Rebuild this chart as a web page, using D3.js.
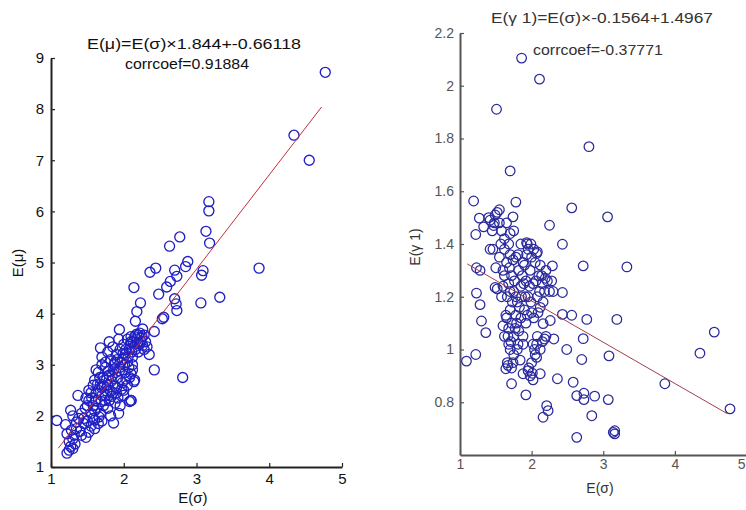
<!DOCTYPE html>
<html><head><meta charset="utf-8">
<script src="https://cdn.jsdelivr.net/npm/d3@7"></script>
<style>body{margin:0;background:#fff;} svg{display:block;font-family:"Liberation Sans",Arial,sans-serif;}</style>
</head><body><svg id="c" width="746" height="510"></svg>
<script>
// ---------- data: left panel E(sigma) vs E(mu) ----------
const leftSigma = [4.77,4.34,4.55,3.17,3.17,3.13,3.18,2.77,2.63,3.86,2.88,2.85,2.70,3.09,3.07,2.44,2.36,2.73,2.14,2.48,2.59,2.64,2.70,2.72,2.73,3.06,3.32,2.23,2.18,2.16,2.55,2.53,2.42,1.94,2.26,2.42,2.81,2.08,2.10,1.86,1.08,1.20,1.27,1.37,1.22,1.27,1.25,1.30,
1.22,1.30,1.35,1.42,1.48,1.52,1.55,1.38,1.45,1.60,1.65,1.28,1.58,1.70,1.33,
1.42,1.50,1.55,1.48,1.60,1.62,1.65,1.68,1.72,1.75,1.78,1.80,1.85,1.88,1.92,1.95,1.58,1.70,1.82,1.66,2.00,1.52,
1.60,1.65,1.68,1.72,1.75,1.78,1.80,1.83,1.86,1.90,1.92,1.95,1.98,2.02,2.05,2.08,2.12,2.15,2.14,1.62,1.70,2.00,1.88,
1.68,1.70,1.75,1.78,1.82,1.85,1.88,1.90,1.93,1.95,1.98,2.00,2.02,2.05,2.08,2.10,2.12,2.15,2.18,2.20,2.22,2.25,2.28,2.30,2.32,2.35,2.12,2.05,1.80,2.18,2.28,2.15,2.20,2.10,2.22];
const leftMu = [8.72,7.49,7.00,6.19,6.01,5.61,5.38,5.50,5.32,4.89,5.02,4.92,4.85,4.84,4.75,4.89,4.81,4.73,4.51,4.38,4.52,4.63,4.29,4.19,4.06,4.21,4.32,4.21,4.04,3.85,3.93,3.90,3.65,3.69,3.70,2.90,2.75,2.28,2.30,1.86,1.91,1.83,2.11,2.40,1.27,1.40,1.33,1.36,
1.65,1.55,1.75,1.62,1.58,1.68,1.80,1.95,1.85,1.75,1.85,1.72,1.95,1.90,1.45,
2.05,2.20,2.45,2.35,2.10,2.30,2.50,2.05,2.20,2.40,2.15,2.30,2.45,2.25,2.35,2.20,2.60,2.55,2.00,1.98,2.40,2.30,
2.70,2.85,2.62,2.75,2.95,2.60,2.80,2.68,2.90,2.55,2.75,2.95,2.65,2.85,2.60,2.75,2.90,2.70,2.67,2.90,3.00,2.50,2.58,
3.33,3.15,3.05,3.25,3.10,3.35,3.05,3.20,3.50,3.30,3.10,3.40,3.20,3.05,3.30,3.45,3.15,3.35,3.50,3.25,3.40,3.55,3.30,3.45,3.35,3.20,3.00,3.50,3.45,3.60,3.58,3.55,3.58,3.55,3.62];
const leftSigmaMore = [1.25,1.32,1.40,1.45,1.50,1.55,1.58,1.62,1.64,1.67,1.70,1.73,1.76,1.79,1.81,1.84,1.87,1.89,1.91,1.94,1.96,1.99,2.01,2.03,2.06,2.09,2.11,2.13,2.16,2.19,2.24,2.26,1.74,1.77,1.83,1.90,1.97,2.03,2.07,2.10,1.56,1.63,1.35,1.30,1.47,1.52,1.69,1.60,1.93,2.10];
const leftMuMore = [1.50,1.62,1.70,1.95,1.90,2.05,2.20,2.45,2.62,2.75,2.40,2.58,2.70,2.88,2.50,2.78,3.00,2.85,3.10,2.88,3.05,3.22,3.00,3.30,3.15,3.40,3.25,3.45,3.30,3.42,3.45,3.38,2.30,2.48,2.38,2.45,2.52,2.72,2.95,2.82,2.35,2.15,1.88,2.00,2.15,2.50,2.28,1.92,2.05,2.30];
const leftFit = [1.1, 4.72];
const leftSlope = 1.844, leftIntercept = -0.66118;
const leftXTicks = [1,2,3,4,5];
const leftYTicks = [1,2,3,4,5,6,7,8,9];
const leftTitle = "E(μ)=E(σ)×1.844+-0.66118";
const leftCorr = "corrcoef=0.91884";

// ---------- data: right panel E(sigma) vs E(gamma1) ----------
const rightSigma = [1.86,2.11,1.51,2.80,1.70,1.19,1.78,2.56,3.06,1.27,1.74,1.40,1.49,1.55,1.47,1.33,2.25,1.22,1.70,1.93,1.94,2.43,2.07,1.42,2.72,3.33,2.29,1.23,1.28,1.49,1.23,1.28,1.30,1.36,1.09,1.22,2.43,2.43,2.56,2.77,3.19,2.72,2.49,2.70,3.08,4.55,4.35,3.86,4.77,2.36,2.58,2.63,2.73,2.73,2.88,3.07,2.84,2.21,2.23,2.16,2.63,3.16,3.16,3.14,1.92,1.72,1.64,1.67,1.88,1.88,2.02,2.12,2.16,2.07,2.26,2.31,
1.55,1.60,1.62,1.65,1.68,1.70,1.72,1.75,1.78,1.80,1.82,1.85,1.88,1.90,1.92,1.95,1.98,2.00,2.02,2.05,2.08,2.10,2.12,2.15,2.18,2.20,2.22,2.25,1.65,1.68,1.70,1.72,1.75,1.78,1.80,1.70,1.68,1.66,1.72,1.75,1.82,1.85,1.88,1.92,1.95,1.98,2.00,2.02,2.05,2.08,2.12,2.15,2.18,2.20,1.62,1.60,1.58,1.52,1.50,1.45,1.48,1.55,1.58,1.52,1.42,1.62,1.65,1.68,1.95,2.00,2.08,1.85,1.75,1.90,2.28,2.30,2.12,1.78,1.60];
const rightGamma = [2.105,2.025,1.911,1.769,1.677,1.563,1.559,1.537,1.503,1.498,1.503,1.500,1.510,1.530,1.470,1.465,1.471,1.436,1.440,1.405,1.400,1.399,1.364,1.380,1.317,1.313,1.317,1.310,1.300,1.235,1.214,1.170,1.108,1.064,0.956,0.981,1.216,1.133,1.130,1.114,1.114,1.041,1.000,0.962,0.976,1.066,0.986,0.870,0.775,0.889,0.876,0.825,0.834,0.810,0.823,0.810,0.749,0.787,0.768,0.743,0.667,0.692,0.680,0.686,0.828,0.870,0.927,0.940,1.020,0.908,0.885,0.908,1.098,0.970,1.110,1.040,
1.35,1.30,1.38,1.33,1.25,1.36,1.28,1.22,1.35,1.18,1.30,1.24,1.33,1.15,1.26,1.20,1.30,1.14,1.25,1.33,1.20,1.28,1.16,1.25,1.22,1.30,1.26,1.22,1.12,1.08,1.15,1.10,1.05,1.13,1.00,1.00,1.02,0.95,0.93,0.98,1.07,1.12,1.05,1.10,0.92,0.90,0.95,1.02,0.98,1.05,1.00,1.03,1.04,1.05,1.05,1.09,1.20,1.23,1.31,1.45,1.48,1.48,1.45,1.52,1.49,1.42,1.48,1.40,1.38,1.35,1.37,1.40,1.45,1.32,1.26,1.22,1.32,1.20,1.24];
const rightSigmaMore = [1.62,1.66,1.70,1.73,1.76,1.79,1.83,1.86,1.89,1.91,1.94,1.97,1.99,2.03,2.06,2.09,2.11,2.14,2.16,2.19,1.67,1.71,1.74,1.77,1.81,1.84,1.96,2.01,2.04,2.07,1.64,1.69,1.74,1.81,1.87,1.93,1.99,2.03,1.57,1.46];
const rightGammaMore = [1.28,1.20,1.22,1.18,1.26,1.10,1.16,1.20,1.25,1.20,1.13,1.24,1.18,1.12,1.26,1.14,1.22,1.28,1.18,1.27,1.05,1.03,0.95,1.08,1.02,0.96,0.93,0.91,1.00,1.02,1.13,1.31,1.34,1.36,1.28,1.36,1.40,1.38,1.40,1.38];
const rightFit = [1.1, 4.73];
const rightSlope = -0.1564, rightIntercept = 1.4967;
const rightXTicks = [1,2,3,4,5];
const rightYTicks = [0.8,1,1.2,1.4,1.6,1.8,2,2.2];
const rightTitle = "E(γ 1)=E(σ)×-0.1564+1.4967";
const rightCorr = "corrcoef=-0.37771";

const svg = d3.select("#c");

function panel(o){
  const g = svg.append("g");
  const x = d3.scaleLinear().domain(o.xDom).range(o.xRange);
  const y = d3.scaleLinear().domain(o.yDom).range(o.yRange);
  const xa = g.append("g").attr("transform",`translate(0,${o.yRange[0]})`)
    .call(d3.axisBottom(x).tickValues(o.xTicks).tickFormat(d3.format("d")).tickSizeInner(-4).tickSizeOuter(0).tickPadding(o.xPad));
  const ya = g.append("g").attr("transform",`translate(${o.xRange[0]},0)`)
    .call(d3.axisLeft(y).tickValues(o.yTicks).tickFormat(d=>String(d)).tickSizeInner(-4).tickSizeOuter(0).tickPadding(o.yPad));
  [xa,ya].forEach(a=>{
    a.select(".domain").attr("stroke",o.axisColor).attr("stroke-width",o.axisWidth);
    a.selectAll(".tick line").attr("stroke",o.axisColor).attr("stroke-width",1.2);
    a.selectAll("text").attr("fill",o.labelColor).style("font-size",o.tickFont+"px").style("font-family","Liberation Sans, Arial, sans-serif");
  });
  if (o.lastXEnd) {
    xa.selectAll(".tick text").filter(d=>d===o.xTicks[o.xTicks.length-1]).attr("text-anchor","end").attr("dx","-1.5");
  }
  // points
  const pts = o.xs.map((v,i)=>[v,o.ys[i]]);
  g.append("g").selectAll("circle").data(pts).join("circle")
    .attr("cx",d=>x(d[0])).attr("cy",d=>y(d[1])).attr("r",o.r)
    .attr("fill","none").attr("stroke",o.markColor).attr("stroke-width",o.markWidth);
  // fit line
  g.append("line").attr("x1",x(o.fit[0])).attr("y1",y(o.slope*o.fit[0]+o.intercept))
    .attr("x2",x(o.fit[1])).attr("y2",y(o.slope*o.fit[1]+o.intercept))
    .attr("stroke",o.lineColor).attr("stroke-width",1);
  // texts
  g.append("text").attr("x",o.titlePos[0]).attr("y",o.titlePos[1]).attr("text-anchor","middle")
    .attr("fill",o.textColor).style("font-size",o.titleFont+"px")
    .attr("textLength",o.titleLen).attr("lengthAdjust","spacingAndGlyphs").text(o.title);
  g.append("text").attr("x",o.corrPos[0]).attr("y",o.corrPos[1]).attr("text-anchor",o.corrAnchor)
    .attr("fill",o.textColor).style("font-size",o.titleFont+"px")
    .attr("textLength",o.corrLen).attr("lengthAdjust","spacingAndGlyphs").text(o.corr);
  g.append("text").attr("x",o.xlabPos[0]).attr("y",o.xlabPos[1]).attr("text-anchor","middle")
    .attr("fill",o.textColor).style("font-size",o.labFont+"px").text("E(σ)");
  g.append("text").attr("transform",`translate(${o.ylabPos[0]},${o.ylabPos[1]}) rotate(-90)`).attr("text-anchor","middle")
    .attr("fill",o.textColor).style("font-size",o.labFont+"px").text(o.ylab);
}

panel({xs:leftSigma.concat(leftSigmaMore), ys:leftMu.concat(leftMuMore), xDom:[1,5], xRange:[51,342], yDom:[1,9], yRange:[467,58],
  xTicks:leftXTicks, yTicks:leftYTicks, fit:leftFit, slope:leftSlope, intercept:leftIntercept,
  title:leftTitle, corr:leftCorr, titlePos:[194,49], titleLen:214, corrPos:[187,69], corrLen:124, corrAnchor:"middle",
  xlabPos:[193,503], ylabPos:[23,263], ylab:"E(μ)",
  axisColor:"#222", axisWidth:2, labelColor:"#111", textColor:"#111", tickFont:15, titleFont:15, labFont:15,
  markColor:"#2020c4", markWidth:1.35, lineColor:"#c0303a", r:5, xPad:6, yPad:7});

panel({xs:rightSigma.concat(rightSigmaMore), ys:rightGamma.concat(rightGammaMore), xDom:[1,5], xRange:[460,746.5], yDom:[0.6,2.2], yRange:[455,33],
  xTicks:rightXTicks, yTicks:rightYTicks, fit:rightFit, slope:rightSlope, intercept:rightIntercept,
  title:rightTitle, corr:rightCorr, titlePos:[602,23], titleLen:222, corrPos:[533,55], corrLen:130, corrAnchor:"start",
  xlabPos:[600,493], ylabPos:[420,247], ylab:"E(γ 1)",
  axisColor:"#555", axisWidth:2, labelColor:"#555", textColor:"#333", tickFont:14, titleFont:14, labFont:14,
  markColor:"#2a2a9c", markWidth:1.25, lineColor:"#a04050", r:4.8, xPad:4, yPad:6, lastXEnd:true});
</script></body></html>
